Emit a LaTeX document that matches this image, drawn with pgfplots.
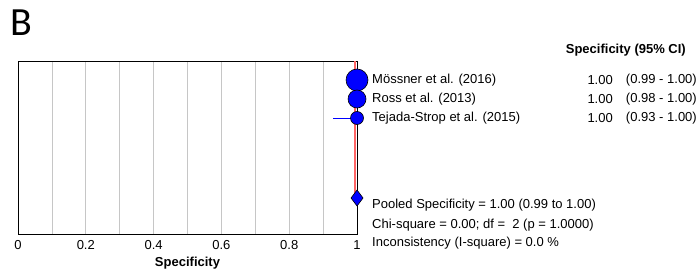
\documentclass[border=0pt]{standalone}
\usepackage{fontspec}
\setmainfont{Liberation Sans}
\newfontfamily\carlito{Carlito}
\usepackage{pgfplots}
\pgfplotsset{compat=1.18}
\newcommand{\fs}{\fontsize{13}{15}\selectfont}
\begin{document}
\begin{tikzpicture}[x=1pt,y=1pt]
\useasboundingbox (0,0) rectangle (700,270);
\begin{axis}[
  at={(18pt,36pt)}, anchor=south west,
  scale only axis, width=339pt, height=173pt,
  xmin=0, xmax=1, ymin=0, ymax=173,
  clip=false,
  axis line style={black, line width=0.8pt},
  xtick={0,0.2,0.4,0.6,0.8,1},
  xticklabels={0,0.2,0.4,0.6,0.8,1},
  minor xtick={0.1,0.3,0.5,0.7,0.9},
  ytick=\empty,
  xmajorgrids, xminorgrids,
  major grid style={gray!45, line width=0.7pt},
  minor grid style={gray!45, line width=0.7pt},
  major tick length=0pt, minor tick length=0pt,
  xticklabel style={font=\fs, anchor=center, yshift=-11pt},
  xlabel={\textbf{Specificity}},
  xlabel style={font=\fs, at={(axis description cs:0.5,0)}, anchor=center, yshift=-29pt},
]
\addplot[blue, line width=0.8pt] coordinates {(0.99,154) (1,154)};
\addplot[blue, line width=0.8pt] coordinates {(0.98,135) (1,135)};
\addplot[blue, line width=0.8pt] coordinates {(0.93,116) (1,116)};
\addplot[only marks, mark=*, mark size=11pt, mark options={fill=blue, draw=black, line width=0.6pt}] coordinates {(1,154)};
\addplot[only marks, mark=*, mark size=9pt, mark options={fill=blue, draw=black, line width=0.6pt}] coordinates {(1,135)};
\addplot[only marks, mark=*, mark size=6.5pt, mark options={fill=blue, draw=black, line width=0.6pt}] coordinates {(1,116)};
\addplot[red!60, line width=1.8pt] coordinates {(0.995,173) (0.995,36)};
\addplot[only marks, mark=diamond*, mark size=8pt, mark options={fill=blue, draw=black, line width=0.6pt}] coordinates {(1,36)};
\end{axis}
\node[anchor=north west, inner sep=0pt, font=\carlito\fontsize{40}{42}\selectfont] at (10,260) {B};
\node[anchor=east, inner sep=0pt, font=\fs\bfseries] at (686,220) {Specificity (95\% CI)};
\node[anchor=west, inner sep=0pt, font=\fs] at (372,190) {Mössner et al. (2016)};
\node[anchor=west, inner sep=0pt, font=\fs] at (372,171) {Ross et al. (2013)};
\node[anchor=west, inner sep=0pt, font=\fs] at (372,152) {Tejada-Strop et al. (2015)};
\node[anchor=east, inner sep=0pt, font=\fs] at (613,190) {1.00};
\node[anchor=east, inner sep=0pt, font=\fs] at (613,171) {1.00};
\node[anchor=east, inner sep=0pt, font=\fs] at (613,152) {1.00};
\node[anchor=east, inner sep=0pt, font=\fs] at (697,190) {(0.99 - 1.00)};
\node[anchor=east, inner sep=0pt, font=\fs] at (697,171) {(0.98 - 1.00)};
\node[anchor=east, inner sep=0pt, font=\fs] at (697,152) {(0.93 - 1.00)};
\node[anchor=west, inner sep=0pt, font=\fs] at (372,65) {Pooled Specificity = 1.00 (0.99 to 1.00)};
\node[anchor=west, inner sep=0pt, font=\fs] at (372,45) {Chi-square = 0.00; df =\ \ 2 (p = 1.0000)};
\node[anchor=west, inner sep=0pt, font=\fs] at (372,27) {Inconsistency (I-square) = 0.0 \%};
\end{tikzpicture}
\end{document}
